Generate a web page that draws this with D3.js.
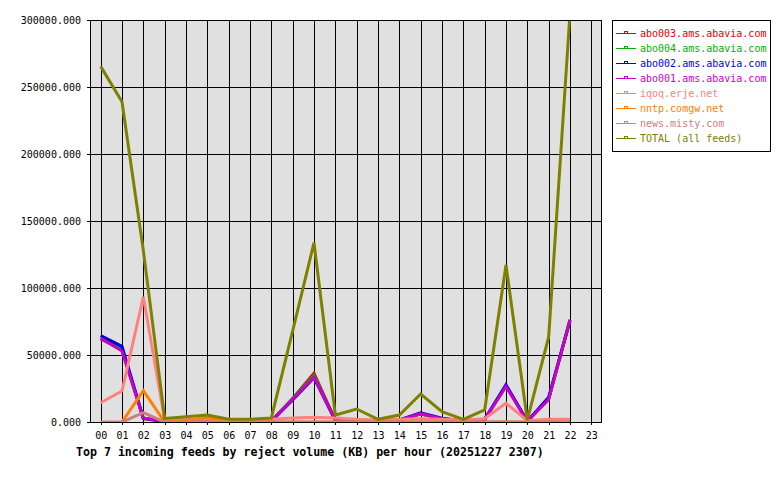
<!DOCTYPE html>
<html>
<head>
<meta charset="utf-8">
<script src="https://cdn.jsdelivr.net/npm/d3@7"></script>
<style>
  body { margin: 0; background: #ffffff; }
  svg { display: block; }
  text { font-family: "DejaVu Sans Mono", monospace; }
</style>
</head>
<body>
<svg id="chart" width="780" height="480"></svg>
<script>
const hours = ["00","01","02","03","04","05","06","07","08","09","10","11","12","13","14","15","16","17","18","19","20","21","22","23"];
const yTicks = [0, 50000, 100000, 150000, 200000, 250000, 300000];

const abo003 = [62000, 54000, 2500, 500, 300, 300, 200, 200, 500, 17500, 36300, 1200, 1500, 500, 1500, 6000, 2500, 800, 2000, 27000, 500, 17000, 76000, null];
const abo004 = [62500, 54500, 2500, 500, 300, 300, 200, 200, 500, 17500, 35000, 1200, 1500, 500, 1500, 6200, 2500, 800, 2000, 27000, 500, 17500, 76500, null];
const abo002 = [64500, 56500, 2800, 500, 300, 300, 200, 200, 500, 16500, 33000, 1200, 1500, 500, 1500, 6800, 2800, 800, 2000, 27800, 500, 18500, 75500, null];
const abo001 = [62500, 53000, 2800, 500, 300, 300, 200, 200, 500, 17000, 33500, 1200, 1500, 500, 1500, 6300, 2500, 800, 2000, 26500, 500, 17000, 76000, null];
const iqoq   = [14400, 23100, 93500, 1500, 2000, 2000, 1500, 1500, 2000, 3000, 3500, 3000, 2000, 1500, 2000, 2500, 2000, 1500, 2500, 14000, 1000, 2000, 2000, null];
const nntp   = [null, 0, 23400, 0, 1000, 3500, 0, 0, 0, 0, 0, 0, 0, 0, 0, 0, 0, 0, 0, 0, 0, 0, 0, null];
const news   = [0, 0, 7000, 0, 0, 0, 0, 0, 0, 0, 0, 0, 0, 0, 0, 0, 0, 0, 0, 0, 0, 0, 0, null];
const total  = [265400, 239000, 128000, 2700, 4000, 5200, 2000, 2000, 3000, 68000, 133800, 5200, 9700, 2000, 5200, 20900, 7700, 2000, 9000, 117200, 1500, 63500, 305000, null];

const seriesNames = ["abo003.ams.abavia.com","abo004.ams.abavia.com","abo002.ams.abavia.com","abo001.ams.abavia.com","iqoq.erje.net","nntp.comgw.net","news.misty.com","TOTAL (all feeds)"];
const seriesValues = [abo003, abo004, abo002, abo001, iqoq, nntp, news, total];
const seriesColors = ["#e00000","#00b000","#0000e0","#c800c8","#ff8080","#ff8000","#c88080","#808000"];
const title = "Top 7 incoming feeds by reject volume (KB) per hour (20251227 2307)";

const svg = d3.select("#chart");
const L = 90, R = 602, T = 20, B = 422;

const x = d3.scalePoint().domain(hours).range([L, R]).padding(0.5);
const y = d3.scaleLinear().domain([0, 300000]).range([B, T]);

// background
svg.append("rect").attr("x", L).attr("y", T).attr("width", R - L).attr("height", B - T).attr("fill", "#e0e0e0");

// grid
const grid = svg.append("g").attr("shape-rendering", "crispEdges").attr("stroke", "#000").attr("stroke-width", 1);
grid.selectAll("line.v").data(hours).join("line")
  .attr("x1", d => Math.round(x(d)) + 0.5).attr("x2", d => Math.round(x(d)) + 0.5)
  .attr("y1", T).attr("y2", B + 3);
grid.selectAll("line.h").data(yTicks).join("line")
  .attr("x1", L - 3).attr("x2", R)
  .attr("y1", d => Math.round(y(d)) + 0.5).attr("y2", d => Math.round(y(d)) + 0.5);

// y axis labels
const yAxis = d3.axisLeft(y).tickValues(yTicks).tickFormat(d3.format(".3f")).tickSize(3).tickPadding(6);
const ya = svg.append("g").attr("transform", `translate(${L},0)`).call(yAxis);
ya.select(".domain").remove();
ya.selectAll("line").remove();
ya.selectAll("text").attr("font-size", 10).attr("fill", "#000").attr("font-family", "DejaVu Sans Mono");

// x axis labels
const xAxis = d3.axisBottom(x).tickSize(3).tickPadding(7);
const xa = svg.append("g").attr("transform", `translate(0,${B})`).call(xAxis);
xa.select(".domain").remove();
xa.selectAll("line").remove();
xa.selectAll("text").attr("font-size", 10).attr("fill", "#000").attr("font-family", "DejaVu Sans Mono");

// lines
svg.append("clipPath").attr("id", "clip").append("rect")
  .attr("x", L).attr("y", T).attr("width", R - L).attr("height", B - T);
const line = d3.line().defined(d => d.v != null).x(d => x(d.h)).y(d => y(d.v));
const lg = svg.append("g").attr("clip-path", "url(#clip)");
seriesValues.forEach((vals, i) => {
  lg.append("path")
    .datum(vals.map((v, j) => ({h: hours[j], v: v})))
    .attr("fill", "none")
    .attr("stroke", seriesColors[i])
    .attr("stroke-width", 3)
    .attr("stroke-linejoin", "miter")
    .attr("d", line);
});

// plot border
svg.append("rect").attr("x", L + 0.5).attr("y", T + 0.5).attr("width", R - L - 1).attr("height", B - T)
  .attr("fill", "none").attr("stroke", "#000").attr("shape-rendering", "crispEdges");

// title
svg.append("text").attr("x", 76).attr("y", 456).attr("font-size", 11.6).attr("font-weight", "bold")
  .attr("fill", "#000").text(title);

// legend
const legend = svg.append("g");
legend.append("rect").attr("x", 612.5).attr("y", 20.5).attr("width", 158).attr("height", 131)
  .attr("fill", "#fff").attr("stroke", "#000").attr("shape-rendering", "crispEdges");
seriesNames.forEach((name, i) => {
  const cy = 33 + i * 15;
  const c = seriesColors[i];
  legend.append("line").attr("x1", 616).attr("x2", 636).attr("y1", cy + 0.5).attr("y2", cy + 0.5)
    .attr("stroke", c).attr("shape-rendering", "crispEdges");
  legend.append("rect").attr("x", 624.5).attr("y", cy - 1.5).attr("width", 3).attr("height", 2)
    .attr("fill", "none").attr("stroke", c).attr("shape-rendering", "crispEdges");
  legend.append("text").attr("x", 640).attr("y", cy + 4).attr("font-size", 10).attr("fill", c).text(name);
});
</script>
</body>
</html>
